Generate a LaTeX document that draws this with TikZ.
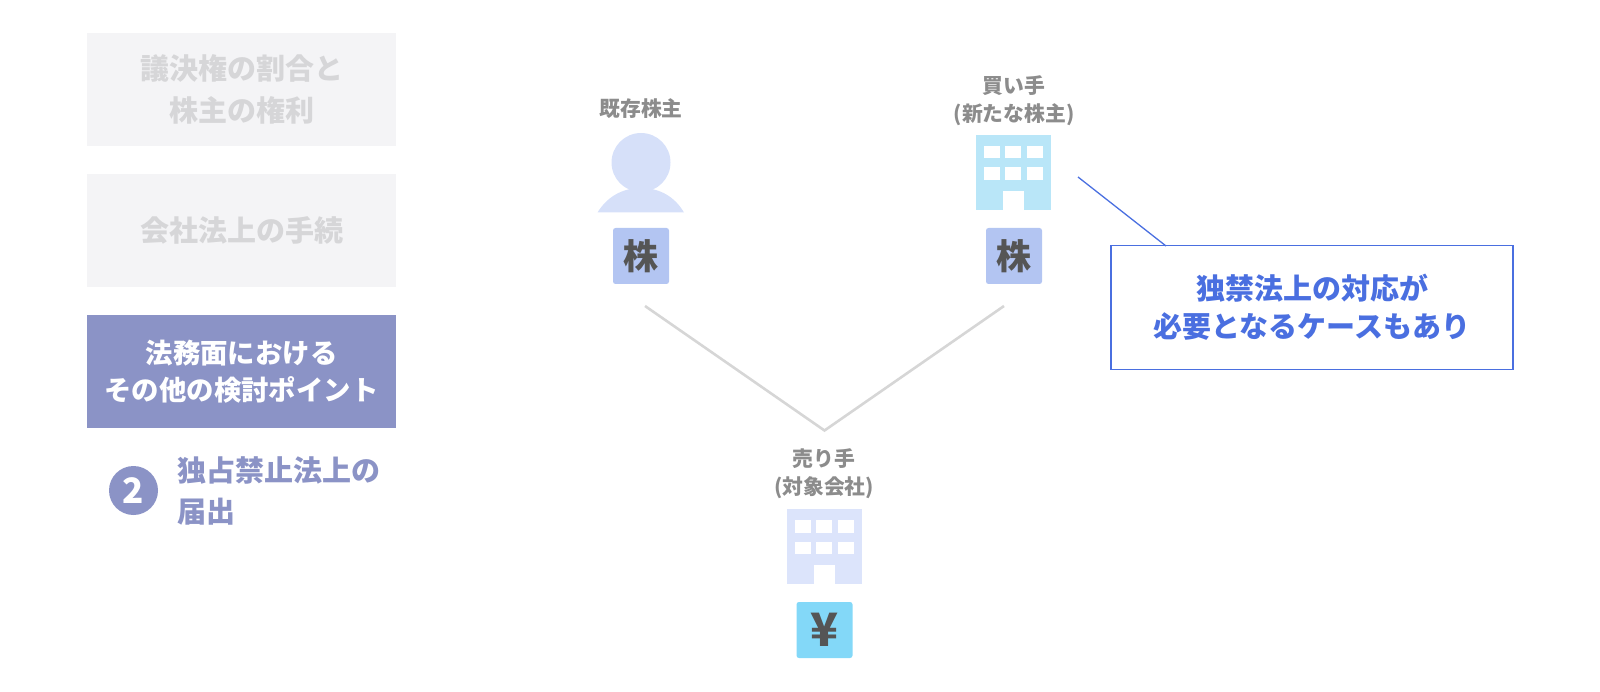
\documentclass[tikz,border=0pt]{standalone}
\usepackage{fontspec}
\setmainfont{Noto Sans CJK JP}
\usepackage{xcolor}
\definecolor{menugrey}{HTML}{F4F4F6}
\definecolor{menutext}{HTML}{D6D6D8}
\definecolor{menuactive}{HTML}{8B93C6}
\definecolor{labelgrey}{HTML}{8C8C8C}
\definecolor{glyphgrey}{HTML}{555555}
\definecolor{personblue}{HTML}{D6E0F9}
\definecolor{buyerblue}{HTML}{B9E6F8}
\definecolor{sellerblue}{HTML}{DCE4FB}
\definecolor{stockblue}{HTML}{B3C5F2}
\definecolor{yenblue}{HTML}{83D8F8}
\definecolor{calloutblue}{HTML}{4A6FE0}
\definecolor{linegrey}{HTML}{D6D6D6}
\tikzset{
  every node/.style  = {inner sep=0pt, outer sep=0pt},
  menubox/.style     = {rectangle, minimum width=309pt, minimum height=113pt, align=center,
                        font=\fontsize{29}{42}\selectfont\bfseries},
  partylabel/.style  = {align=center, text=labelgrey, font=\fontsize{20.8}{28}\selectfont\bfseries},
  assetbox/.style    = {rectangle, rounded corners=2.5pt, minimum width=56pt, minimum height=56pt,
                        text=glyphgrey},
  tieline/.style     = {draw=linegrey, line width=2.6pt},
  calloutline/.style = {draw=calloutblue, line width=1.3pt}
}
% office building icon: top left corner, fill colour
\newcommand{\officeicon}[3]{%
  \fill[#3] (#1,#2) rectangle ++(75,75);
  \foreach \wx in {8,29,51}
    \foreach \wy in {11,32.5}
      \fill[white] (#1+\wx,#2+\wy) rectangle ++(16,12.5);
  \fill[white] (#1+27,#2+56) rectangle ++(21,19);
}
\begin{document}
\begin{tikzpicture}[x=1pt, y=-1pt]
  \useasboundingbox (0,0) rectangle (1600,692);
  % left menu
  \node[menubox, fill=menugrey, text=menutext] (rights) at (241.5,89.5) {議決権の割合と\\株主の権利};
  \node[menubox, fill=menugrey, text=menutext] (procedure) at (241.5,230.5) {会社法上の手続};
  \node[menubox, fill=menuactive, text=white, font=\fontsize{27.4}{37}\selectfont\bfseries] (legal) at (241.5,371.5) {法務面における\\その他の検討ポイント};
  \node[circle, fill=menuactive, text=white, minimum size=49pt, font=\fontsize{35}{35}\selectfont\bfseries] (numtwo) at (133.5,490.5) {2};
  \node[anchor=west, align=left, text=menuactive, font=\fontsize{29}{41}\selectfont\bfseries] (filing) at (177,490.5) {独占禁止法上の\\届出};

  % existing shareholder
  \node[partylabel] (holderlabel) at (641,109) {既存株主};
  \fill[personblue] (641,162.5) circle (29.5);
  \fill[personblue] (597.5,212.5) .. controls (607,197) and (622,188) .. (641,188)
    .. controls (660,188) and (675,197) .. (684,212.5) -- cycle;
  \node[assetbox, fill=stockblue, font=\fontsize{35}{35}\selectfont\bfseries] (holderstock) at (641,256) {株};

  % buyer
  \node[partylabel] (buyerlabel) at (1014,101) {買い手\\(新たな株主)};
  \officeicon{976}{135}{buyerblue}
  \node[assetbox, fill=stockblue, font=\fontsize{35}{35}\selectfont\bfseries] (buyerstock) at (1014,256) {株};

  % seller
  \node[partylabel] (sellerlabel) at (824,474) {売り手\\(対象会社)};
  \officeicon{787}{509}{sellerblue}
  \node[assetbox, fill=yenblue, font=\fontsize{46}{46}\selectfont\bfseries] (yen) at (824.5,630) {¥};

  % ties
  \coordinate (holderend) at (645,306);
  \coordinate (buyerend) at (1004,306);
  \coordinate (apex) at (824.5,430.5);
  \draw[tieline] (holderend) -- (apex) -- (buyerend);

  % callout
  \node[draw=calloutblue, line width=1.3pt, rectangle, minimum width=402pt, minimum height=123.5pt,
        align=center, text=calloutblue, font=\fontsize{29}{38}\selectfont\bfseries] (callout) at (1312,307.5)
        {独禁法上の対応が\\必要となるケースもあり};
  \coordinate (calloutfrom) at (1078,177);
  \coordinate (calloutto) at (1166,246);
  \draw[calloutline] (calloutfrom) -- (calloutto);
\end{tikzpicture}
\end{document}
